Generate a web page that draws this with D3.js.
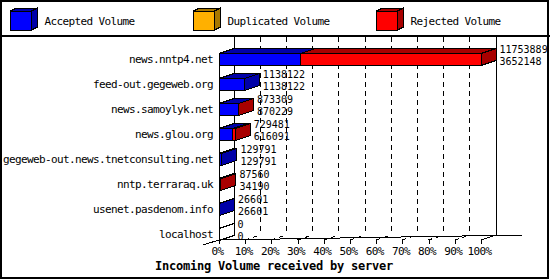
<!DOCTYPE html>
<html>
<head>
<meta charset="utf-8">
<script src="https://cdn.jsdelivr.net/npm/d3@7"></script>
<style>
  body { margin: 0; background: #fff; }
  text { font-family: "DejaVu Sans Mono", monospace; fill: #000; }
  .small { font-size: 11px; letter-spacing: -0.62px; }
  .value { font-size: 10px; }
</style>
</head>
<body>
<div id="chart"></div>
<script>
const servers = [
  "news.nntp4.net",
  "feed-out.gegeweb.org",
  "news.samoylyk.net",
  "news.glou.org",
  "gegeweb-out.news.tnetconsulting.net",
  "nntp.terraraq.uk",
  "usenet.pasdenom.info",
  "localhost"
];
const totalVolume = [11753889, 1138122, 873309, 729481, 129791, 87560, 26601, 0];
const acceptedVolume = [3652148, 1138122, 870229, 616091, 129791, 34190, 26601, 0];
const duplicatedVolume = [0, 0, 0, 0, 0, 0, 0, 0];
const rejectedVolume = [8101741, 0, 3080, 113390, 0, 53370, 0, 0];

const legendLabels = ["Accepted Volume", "Duplicated Volume", "Rejected Volume"];
const frontColors = ["#0000ff", "#ffb000", "#ff0000"];
const sideColors = ["#0000a8", "#a87800", "#a80000"];
const percentTicks = [0, 10, 20, 30, 40, 50, 60, 70, 80, 90, 100];

const width = 550, height = 280;
const depthX = 15, depthY = 5;
const barHeight = 12;

const svg = d3.select("#chart")
  .append("svg")
    .attr("width", width)
    .attr("height", height)
    .attr("shape-rendering", "crispEdges");

svg.append("rect")
  .attr("width", width).attr("height", height)
  .attr("fill", "#fff");

const xScale = d3.scaleLinear()
  .domain([0, d3.max(totalVolume)])
  .range([219, 481]);

const pctScale = d3.scaleLinear()
  .domain([0, 100])
  .range([219, 481]);

const yScale = d3.scaleBand()
  .domain(servers)
  .range([47, 247]);

// back wall + grid
const floorY = 240;
const topY = 37;

svg.selectAll(".grid")
  .data(percentTicks.slice(1, -1))
  .enter()
  .append("line")
    .attr("x1", d => pctScale(d) + depthX)
    .attr("x2", d => pctScale(d) + depthX)
    .attr("y1", topY)
    .attr("y2", floorY - depthY)
    .attr("stroke", "#000")
    .attr("stroke-dasharray", "5,4");

svg.selectAll(".floorgrid")
  .data(percentTicks.slice(1, -1))
  .enter()
  .append("line")
    .attr("x1", d => pctScale(d))
    .attr("x2", d => pctScale(d) + depthX)
    .attr("y1", floorY)
    .attr("y2", floorY - depthY)
    .attr("stroke", "#000")
    .attr("stroke-dasharray", "4,4");

[0, 100].forEach(p => {
  svg.append("line")
    .attr("x1", pctScale(p) + depthX).attr("x2", pctScale(p) + depthX)
    .attr("y1", topY).attr("y2", floorY - depthY)
    .attr("stroke", "#000");
});

svg.append("line")
  .attr("x1", pctScale(0)).attr("y1", floorY)
  .attr("x2", 523).attr("y2", floorY - depthY)
  .attr("stroke", "#000");

svg.append("line")
  .attr("x1", 203).attr("y1", floorY + 5)
  .attr("x2", pctScale(0)).attr("y2", floorY)
  .attr("stroke", "#000");

svg.append("line")
  .attr("x1", pctScale(100)).attr("y1", floorY)
  .attr("x2", pctScale(100) + depthX).attr("y2", floorY - depthY)
  .attr("stroke", "#000");

svg.append("line")
  .attr("x1", pctScale(0)).attr("x2", pctScale(0))
  .attr("y1", yScale(servers[0]) + 6.5).attr("y2", floorY)
  .attr("stroke", "#000");

// x axis
const xAxis = svg.append("g")
  .attr("transform", `translate(0, ${floorY})`)
  .call(d3.axisBottom(pctScale)
    .tickValues(percentTicks)
    .tickSize(4)
    .tickPadding(3)
    .tickFormat(d => d + "%"));
xAxis.select(".domain").remove();
xAxis.selectAll("line").attr("stroke", "#000");
xAxis.selectAll("text")
  .attr("x", -2)
  .attr("class", "small")
  .style("font-family", "DejaVu Sans Mono, monospace")
  .attr("fill", "#000");

// y labels
const yAxis = svg.append("g")
  .attr("transform", `translate(${pctScale(0)}, 0)`)
  .call(d3.axisLeft(yScale).tickSize(0).tickPadding(6));
yAxis.select(".domain").remove();
yAxis.selectAll("text")
  .attr("class", "small")
  .style("font-family", "DejaVu Sans Mono, monospace")
  .attr("fill", "#000");

function drawBox(g, x0, x1, yT, yB, front, side) {
  g.append("polygon")
    .attr("points", [[x0, yT], [x1, yT], [x1, yB], [x0, yB]].join(" "))
    .attr("fill", front).attr("stroke", "#000");
  g.append("polygon")
    .attr("points", [[x0, yT], [x0 + depthX, yT - depthY], [x1 + depthX, yT - depthY], [x1, yT]].join(" "))
    .attr("fill", side).attr("stroke", "#000");
  g.append("polygon")
    .attr("points", [[x1, yT], [x1 + depthX, yT - depthY], [x1 + depthX, yB - depthY], [x1, yB]].join(" "))
    .attr("fill", side).attr("stroke", "#000");
}

const series = [acceptedVolume, duplicatedVolume, rejectedVolume];
const bars = svg.append("g");

servers.forEach((s, i) => {
  const yT = yScale(s) + 6.5;
  const yB = yT + barHeight;
  if (totalVolume[i] === 0) {
    drawBox(bars, xScale(0), xScale(0), yT, yB, "none", "none");
    return;
  }
  let start = 0;
  series.forEach((vals, k) => {
    const v = vals[i];
    if (v > 0) {
      drawBox(bars, xScale(start), xScale(start + v), yT, yB, frontColors[k], sideColors[k]);
    }
    start += v;
  });
});

// value labels (total on top, accepted below)
servers.forEach((s, i) => {
  const cy = yScale(s) + yScale.bandwidth() / 2;
  const lx = xScale(totalVolume[i]) + depthX + 3.5;
  svg.append("text")
    .attr("class", "value")
    .attr("x", lx).attr("y", cy - 10).attr("dy", "0.35em")
    .text(totalVolume[i]);
  svg.append("text")
    .attr("class", "value")
    .attr("x", lx).attr("y", cy + 2).attr("dy", "0.35em")
    .text(acceptedVolume[i]);
});

// title
svg.append("text")
  .attr("x", 274)
  .attr("y", 270)
  .attr("text-anchor", "middle")
  .style("font-size", "12px")
  .style("letter-spacing", "-0.22px")
  .style("font-weight", "bold")
  .text("Incoming Volume received by server");

// legend
const legend = svg.append("g");
legendLabels.forEach((lbl, i) => {
  const bx = 10.5 + 183 * i, by = 11;
  legend.append("polygon")
    .attr("points", [[bx, by], [bx + 6, by - 3], [bx + 27, by - 3], [bx + 21, by]].join(" "))
    .attr("fill", sideColors[i]).attr("stroke", "#000");
  legend.append("polygon")
    .attr("points", [[bx + 21, by], [bx + 27, by - 3], [bx + 27, by + 16], [bx + 21, by + 19]].join(" "))
    .attr("fill", sideColors[i]).attr("stroke", "#000");
  legend.append("rect")
    .attr("x", bx).attr("y", by).attr("width", 21).attr("height", 19)
    .attr("fill", frontColors[i]).attr("stroke", "#000");
  legend.append("text")
    .attr("class", "small")
    .attr("x", bx + 34).attr("y", 21).attr("dy", "0.35em")
    .text(lbl);
});

svg.append("line")
  .attr("x1", 0).attr("x2", width)
  .attr("y1", 36).attr("y2", 36)
  .attr("stroke", "#000").attr("stroke-width", 2);

svg.append("rect")
  .attr("x", 1).attr("y", 1)
  .attr("width", width - 3).attr("height", height - 3)
  .attr("fill", "none")
  .attr("stroke", "#000")
  .attr("stroke-width", 2);
</script>
</body>
</html>
